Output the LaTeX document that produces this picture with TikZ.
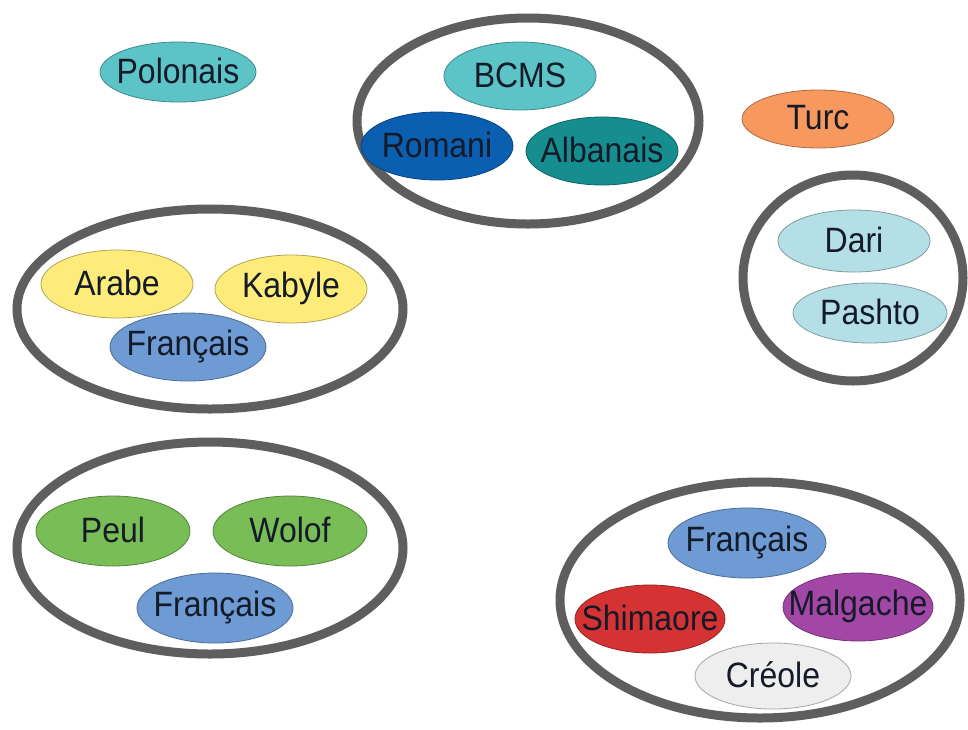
\documentclass[tikz,border=0pt]{standalone}
\usepackage{fontspec}
\usepackage{graphicx}
\setmainfont{Liberation Sans}
\definecolor{ringgray}{HTML}{5E5E5E}
\definecolor{cteal}{HTML}{5CC3C6}
\definecolor{cdblue}{HTML}{0B5FB0}
\definecolor{cdteal}{HTML}{168E8F}
\definecolor{corange}{HTML}{F7995E}
\definecolor{cpale}{HTML}{B5DFE6}
\definecolor{cyellow}{HTML}{FDEC79}
\definecolor{cfr}{HTML}{6E9BD3}
\definecolor{cgreen}{HTML}{79BD57}
\definecolor{cred}{HTML}{D53333}
\definecolor{cpurple}{HTML}{A347A6}
\definecolor{cgray}{HTML}{EEEEEE}
\definecolor{ctext}{HTML}{141A28}
\newcommand\talltxt[1]{\scalebox{1}[1.1]{#1}}
\tikzset{
  ring/.style={draw=ringgray, line width=9pt},
  blob/.style={draw=#1!70!black, fill=#1, line width=0.8pt},
  lbl/.style={text=ctext, font=\fontsize{32}{37}\selectfont, inner sep=0pt}
}
\begin{document}
\begin{tikzpicture}[x=1pt,y=-1pt]
\useasboundingbox (0,0) rectangle (968,729);
\fill[white] (0,0) rectangle (968,729);
% rings
\draw[ring] (528,121) ellipse (171pt and 103pt);
\draw[ring] (853,278) ellipse (110pt and 103pt);
\draw[ring] (210,309) ellipse (193pt and 100pt);
\draw[ring] (210,548) ellipse (193pt and 106pt);
\draw[ring] (760,600) ellipse (200pt and 118pt);
% single languages
\path[blob=cteal] (178,72) ellipse (78pt and 30pt);
\node[lbl] (polonais) at (178,71) {\talltxt{Polonais}};
\path[blob=corange] (818,119) ellipse (76pt and 29pt);
\node[lbl] (turc) at (818,118) {\talltxt{Turc}};
% BCMS group
\path[blob=cteal] (520,76) ellipse (76pt and 34pt);
\node[lbl] (bcms) at (520,75) {\talltxt{BCMS}};
\path[blob=cdblue] (437,146) ellipse (76pt and 34pt);
\node[lbl] (romani) at (437,145) {\talltxt{Romani}};
\path[blob=cdteal] (602,151) ellipse (76pt and 34pt);
\node[lbl] (albanais) at (602,150) {\talltxt{Albanais}};
% Dari / Pashto
\path[blob=cpale] (854,241) ellipse (76pt and 31pt);
\node[lbl] (dari) at (854,240) {\talltxt{Dari}};
\path[blob=cpale] (870,313) ellipse (77pt and 30pt);
\node[lbl] (pashto) at (870,312) {\talltxt{Pashto}};
% Arabe / Kabyle
\path[blob=cyellow] (117,284) ellipse (76pt and 34pt);
\node[lbl] (arabe) at (117,283) {\talltxt{Arabe}};
\path[blob=cyellow] (291,289) ellipse (76pt and 34pt);
\node[lbl] (kabyle) at (291,288) {\talltxt{Kabyle}};
\path[blob=cfr] (188,347) ellipse (78pt and 34pt);
\node[lbl] (fr1) at (188,346) {\talltxt{Français}};
% Peul / Wolof
\path[blob=cgreen] (113,531) ellipse (77pt and 35pt);
\node[lbl] (peul) at (113,530) {\talltxt{Peul}};
\path[blob=cgreen] (290,531) ellipse (77pt and 35pt);
\node[lbl] (wolof) at (290,530) {\talltxt{Wolof}};
\path[blob=cfr] (215,608) ellipse (78pt and 35pt);
\node[lbl] (fr2) at (215,607) {\talltxt{Français}};
% Mayotte group
\path[blob=cfr] (747,543) ellipse (79pt and 35pt);
\node[lbl] (fr3) at (747,542) {\talltxt{Français}};
\path[blob=cred] (650,619) ellipse (75pt and 34pt);
\node[lbl] (shimaore) at (650,618) {\talltxt{Shimaore}};
\path[blob=cpurple] (858,607) ellipse (75pt and 34pt);
\node[lbl] (malgache) at (858,606) {\talltxt{Malgache}};
\path[blob=cgray] (773,676) ellipse (78pt and 33pt);
\node[lbl] (creole) at (773,675) {\talltxt{Créole}};
\end{tikzpicture}
\end{document}
